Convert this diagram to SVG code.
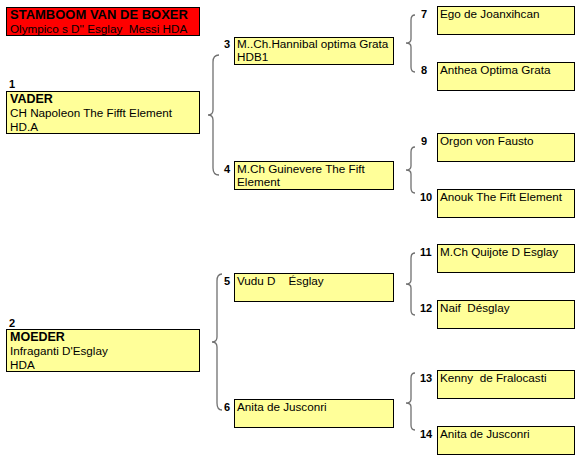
<svg xmlns="http://www.w3.org/2000/svg" width="577" height="464" viewBox="0 0 577 464">
<style>
text{font-family:"Liberation Sans",Arial,sans-serif;fill:#000;white-space:pre}
.t{font-size:11.7px}
.b{font-size:12.5px;font-weight:bold}
.n{font-size:11px;font-weight:bold}
.h{font-size:13px;font-weight:bold}
.box{fill:#ffff99;stroke:#000;stroke-width:1}
.red{fill:#ff0000;stroke:#000;stroke-width:1}
.br{fill:none;stroke:#707070;stroke-width:1.3}
</style>
<rect width="577" height="464" fill="#fff"/>
<g id="title">
<rect class="red" x="6.5" y="7.5" width="193" height="28"/>
<text class="h" x="10" y="19">STAMBOOM VAN DE BOXER</text>
<text class="t" x="10" y="32.5">Olympico s D'' Esglay  Messi HDA</text>
</g>
<g id="connectors">
<path class="br" d="M219,55 Q213,55 213,62 L213,110 Q213,115 208,115 Q213,115 213,120 L213,168 Q213,175 219,175"/>
<path class="br" d="M415,15 Q411,15 411,20 L411,39 Q411,43 406,43 Q411,43 411,47 L411,67 Q411,72 415,72"/>
<path class="br" d="M415,147 Q411,147 411,152 L411,166 Q411,170 406,170 Q411,170 411,174 L411,188 Q411,193 415,193"/>
<path class="br" d="M415,253 Q411,253 411,258 L411,280 Q411,284 406,284 Q411,284 411,288 L411,310 Q411,315 415,315"/>
<path class="br" d="M415,373 Q411,373 411,378 L411,399 Q411,403 406,403 Q411,403 411,407 L411,425 Q411,430 415,430"/>
<path class="br" d="M222,274 Q217,274 217,281 L217,337 Q217,342 212,342 Q217,342 217,347 L217,403 Q217,410 222,410"/>
</g>
<g id="p1">
<text class="n" x="9" y="88">1</text>
<rect class="box" x="6.5" y="91.5" width="193" height="42"/>
<text class="b" x="10" y="103">VADER</text>
<text class="t" x="10" y="117">CH Napoleon The Fifft Element</text>
<text class="t" x="10" y="131">HD.A</text>
</g>
<g id="p2">
<text class="n" x="9" y="327">2</text>
<rect class="box" x="6.5" y="329.5" width="193" height="42"/>
<text class="b" x="10" y="341">MOEDER</text>
<text class="t" x="10" y="355">Infraganti D'Esglay</text>
<text class="t" x="10" y="369">HDA</text>
</g>
<g id="p3">
<text class="n" x="224" y="48">3</text>
<rect class="box" x="234.5" y="37.5" width="159" height="27"/>
<text class="t" x="237" y="48">M..Ch.Hannibal optima Grata</text>
<text class="t" x="237" y="61">HDB1</text>
</g>
<g id="p4">
<text class="n" x="224" y="173">4</text>
<rect class="box" x="234.5" y="161.5" width="159" height="28"/>
<text class="t" x="237" y="173">M.Ch Guinevere The Fift</text>
<text class="t" x="237" y="186">Element</text>
</g>
<g id="p5">
<text class="n" x="224" y="285">5</text>
<rect class="box" x="234.5" y="273.5" width="159" height="28"/>
<text class="t" x="237" y="285">Vudu D    Ésglay</text>
</g>
<g id="p6">
<text class="n" x="224" y="411">6</text>
<rect class="box" x="234.5" y="399.5" width="159" height="28"/>
<text class="t" x="237" y="411">Anita de Jusconri</text>
</g>
<g id="p7">
<text class="n" x="421" y="18">7</text>
<rect class="box" x="437.5" y="6.5" width="137" height="28"/>
<text class="t" x="440" y="18">Ego de Joanxihcan</text>
</g>
<g id="p8">
<text class="n" x="421" y="74">8</text>
<rect class="box" x="437.5" y="62.5" width="137" height="28"/>
<text class="t" x="440" y="74">Anthea Optima Grata</text>
</g>
<g id="p9">
<text class="n" x="421" y="145">9</text>
<rect class="box" x="437.5" y="133.5" width="137" height="28"/>
<text class="t" x="440" y="145">Orgon von Fausto</text>
</g>
<g id="p10">
<text class="n" x="420" y="201">10</text>
<rect class="box" x="437.5" y="189.5" width="137" height="28"/>
<text class="t" x="440" y="201">Anouk The Fift Element</text>
</g>
<g id="p11">
<text class="n" x="420" y="256">11</text>
<rect class="box" x="437.5" y="244.5" width="137" height="28"/>
<text class="t" x="440" y="256">M.Ch Quijote D Esglay</text>
</g>
<g id="p12">
<text class="n" x="420" y="312">12</text>
<rect class="box" x="437.5" y="300.5" width="137" height="28"/>
<text class="t" x="440" y="312">Naif  Désglay</text>
</g>
<g id="p13">
<text class="n" x="420" y="382">13</text>
<rect class="box" x="437.5" y="370.5" width="137" height="28"/>
<text class="t" x="440" y="382">Kenny  de Fralocasti</text>
</g>
<g id="p14">
<text class="n" x="420" y="438">14</text>
<rect class="box" x="437.5" y="426.5" width="137" height="28"/>
<text class="t" x="440" y="438">Anita de Jusconri</text>
</g>
</svg>
